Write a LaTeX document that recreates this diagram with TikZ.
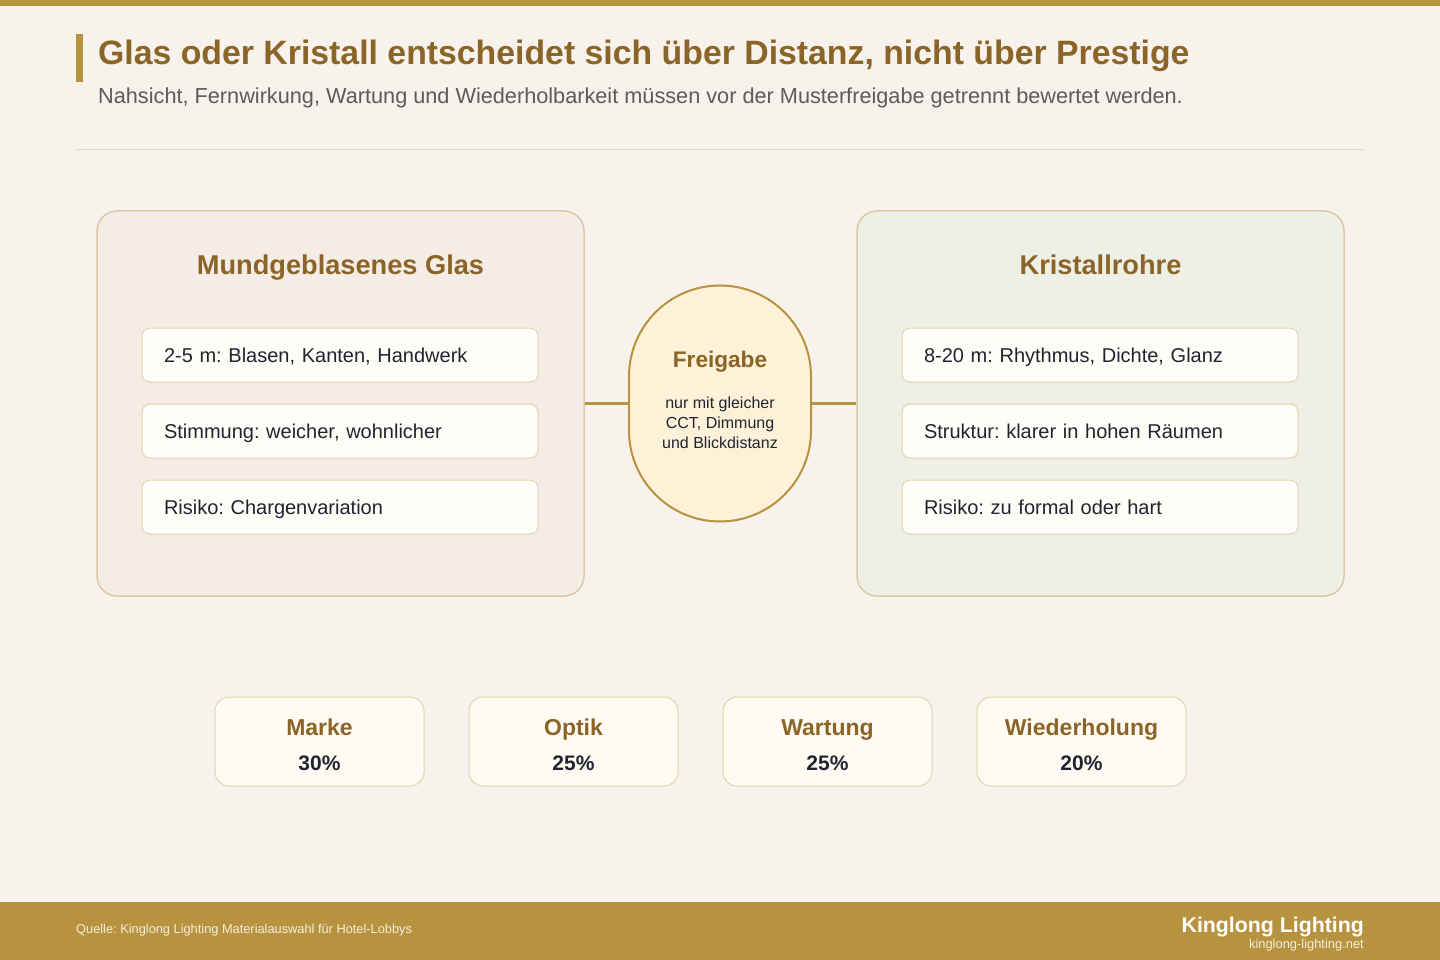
\documentclass[tikz,border=0pt]{standalone}
\usepackage{fontspec}
\setmainfont{Liberation Sans}
\usetikzlibrary{positioning}
\frenchspacing
\definecolor{bg}{HTML}{F7F3EC}
\definecolor{gold}{HTML}{B8933F}
\definecolor{brown}{HTML}{8B6428}
\definecolor{greytxt}{HTML}{5F5A55}
\definecolor{ink}{HTML}{1F2430}
\definecolor{rule}{HTML}{E3D5BC}
\definecolor{edge}{HTML}{DCC8A5}
\definecolor{boxedge}{HTML}{E2D2AE}
\definecolor{glasbg}{HTML}{F6ECE6}
\definecolor{kristbg}{HTML}{EEF0E6}
\definecolor{cardbg}{HTML}{FFFDF8}
\definecolor{scorebg}{HTML}{FFFBF3}
\definecolor{gatebg}{HTML}{FDF1D8}
\definecolor{foottxt}{HTML}{F5EEDD}
\newcommand{\fs}[1]{\fontsize{#1}{#1}\selectfont}
\tikzset{
  panel/.style={draw=edge,line width=1.5pt,rounded corners=20pt,minimum width=487pt,minimum height=385pt,inner sep=0pt},
  heading/.style={text=brown,font=\fs{27.2}\bfseries,anchor=base},
  card/.style={draw=boxedge,line width=1pt,fill=cardbg,rounded corners=8pt,minimum height=54pt,text width=352pt,text height=17pt,text depth=2pt,inner xsep=22pt,inner ysep=0pt,align=left,text=ink,font=\fs{20}},
  gate/.style={draw=gold,line width=2pt,fill=gatebg,rounded corners=91pt,minimum width=182pt,minimum height=236pt,inner sep=0pt},
  link/.style={draw=gold,line width=3pt},
  score/.style={draw=boxedge,line width=1pt,fill=scorebg,rounded corners=14pt,minimum width=209pt,minimum height=89pt,inner sep=0pt}
}

\begin{document}
\begin{tikzpicture}[x=1pt,y=-1pt]
  % page and bars
  \fill[bg] (0,0) rectangle (1440,960);
  \useasboundingbox (0,0) rectangle (1440,960);
  \fill[gold] (0,0) rectangle (1440,6);
  \fill[gold] (0,902) rectangle (1440,960);
  \fill[gold] (76,34) rectangle (83,82);
  \draw[rule,line width=1pt] (76,150) -- (1364,150);

  % title
  \node[anchor=base west,inner sep=0pt,text=brown,font=\fs{33.8}\bfseries] (title) at (98,65)
    {Glas oder Kristall entscheidet sich über Distanz, nicht über Prestige};
  \node[anchor=base west,inner sep=0pt,text=greytxt,font=\fs{21.7}] (subtitle) at (98,104)
    {Nahsicht, Fernwirkung, Wartung und Wiederholbarkeit müssen vor der Musterfreigabe getrennt bewertet werden.};

  % panels
  \node[panel,fill=glasbg] (glas) at (340.5,403.5) {};
  \node[panel,fill=kristbg] (krist) at (1100.5,403.5) {};
  \node[heading] (glashead) at (340.5,274) {Mundgeblasenes Glas};
  \node[heading] (kristhead) at (1100.5,274) {Kristallrohre};

  \node[card] (g1) at (340,355) {2-5 m: Blasen, Kanten, Handwerk};
  \node[card] (g2) at (340,431) {Stimmung: weicher, wohnlicher};
  \node[card] (g3) at (340,507) {Risiko: Chargenvariation};
  \node[card] (k1) at (1100,355) {8-20 m: Rhythmus, Dichte, Glanz};
  \node[card] (k2) at (1100,431) {Struktur: klarer in hohen Räumen};
  \node[card] (k3) at (1100,507) {Risiko: zu formal oder hart};

  % release gate
  \node[gate] (freigabe) at (720,403.5) {};
  \node[anchor=base,text=brown,font=\fs{22.6}\bfseries] (gatehead) at (720,367) {Freigabe};
  \node[align=center,text=ink,font=\fs{16},inner sep=0pt] (gatetxt) at (720,423)
    {nur mit gleicher\\[4pt]CCT, Dimmung\\[4pt]und Blickdistanz};
  \draw[link] (glas.east) -- (freigabe.west);
  \draw[link] (freigabe.east) -- (krist.west);

  % weighting
  \foreach \name/\val [count=\i] in {Marke/30,Optik/25,Wartung/25,Wiederholung/20}{
    \node[score] (s\i) at (319.5+254*\i-254,741.5) {};
    \node[anchor=base,text=brown,font=\fs{23}\bfseries] at (319.5+254*\i-254,735) {\name};
    \node[anchor=base,text=ink,font=\fs{21}\bfseries] at (319.5+254*\i-254,770) {\val\%};
  }

  % footer
  \node[anchor=base west,inner sep=0pt,text=foottxt,font=\fs{12.8}] (source) at (76,933)
    {Quelle: Kinglong Lighting Materialauswahl für Hotel-Lobbys};
  \node[anchor=base east,inner sep=0pt,text=white,font=\fs{21.3}\bfseries] (brand) at (1364,932)
    {Kinglong Lighting};
  \node[anchor=base east,inner sep=0pt,text=foottxt,font=\fs{12.9}] (url) at (1364,948)
    {kinglong-lighting.net};
\end{tikzpicture}
\end{document}
